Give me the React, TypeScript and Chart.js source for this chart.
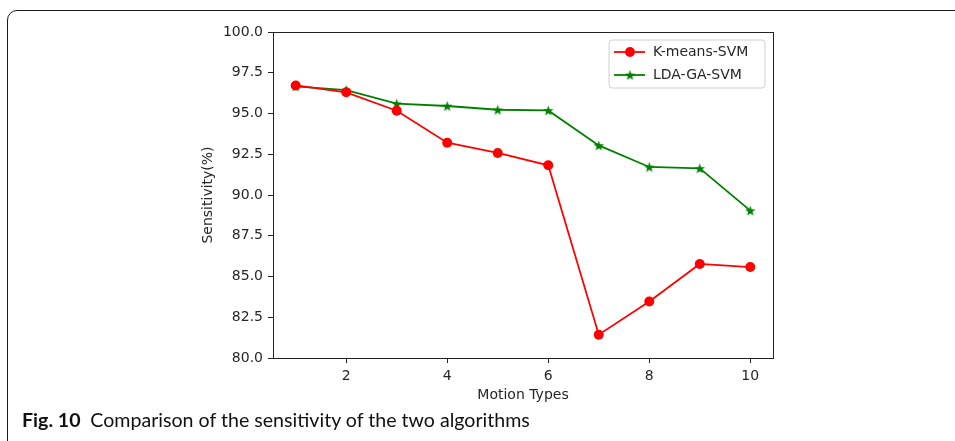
import React, { useEffect, useRef } from "react";
import { Chart, registerables } from "chart.js";

Chart.register(...registerables);

const motionTypes = [1, 2, 3, 4, 5, 6, 7, 8, 9, 10];
const kmeansSvm = [96.72, 96.3, 95.17, 93.21, 92.58, 91.82, 81.43, 83.47, 85.77, 85.58];
const ldaGaSvm = [96.66, 96.44, 95.6, 95.46, 95.23, 95.19, 93.04, 91.72, 91.63, 89.04];
const xTicks = [2, 4, 6, 8, 10];
const yTicks = [80, 82.5, 85, 87.5, 90, 92.5, 95, 97.5, 100];
const seriesNames = ["K-means-SVM", "LDA-GA-SVM"];
const xTitle = "Motion Types";
const yTitle = "Sensitivity(%)";
const captionBold = "Fig. 10";
const captionText = "Comparison of the sensitivity of the two algorithms";

const RED = "#ff0000";
const GREEN = "#008000";
const TEXT = "#262626";
const FONT = "'DejaVu Sans', sans-serif";

function makeStar(color: string, r: number) {
  const size = Math.ceil(r * 2 + 2);
  const c = document.createElement("canvas");
  c.width = size;
  c.height = size;
  const ctx = c.getContext("2d")!;
  const cx = size / 2;
  const cy = size / 2 + r * 0.1;
  const inner = r * 0.42;
  ctx.beginPath();
  for (let i = 0; i < 10; i++) {
    const rad = i % 2 === 0 ? r : inner;
    const a = -Math.PI / 2 + (i * Math.PI) / 5;
    const x = cx + rad * Math.cos(a);
    const y = cy + rad * Math.sin(a);
    if (i === 0) ctx.moveTo(x, y);
    else ctx.lineTo(x, y);
  }
  ctx.closePath();
  ctx.fillStyle = color;
  ctx.fill();
  return c;
}

export default function App() {
  const ref = useRef<HTMLCanvasElement | null>(null);

  useEffect(() => {
    if (!ref.current) return;
    const star = makeStar(GREEN, 5.5);

    const framePlugin = {
      id: "frameAndLegend",
      afterDraw(chart: any) {
        const { ctx, chartArea } = chart;
        ctx.save();
        ctx.strokeStyle = "#222";
        ctx.lineWidth = 1;
        ctx.strokeRect(
          Math.round(chartArea.left) + 0.5,
          Math.round(chartArea.top) + 0.5,
          Math.round(chartArea.right - chartArea.left),
          Math.round(chartArea.bottom - chartArea.top)
        );
        const lx = chartArea.right - 164;
        const ly = chartArea.top + 8;
        const lw = 156;
        const lh = 48;
        const rr = 3;
        ctx.beginPath();
        ctx.moveTo(lx + rr, ly);
        ctx.lineTo(lx + lw - rr, ly);
        ctx.quadraticCurveTo(lx + lw, ly, lx + lw, ly + rr);
        ctx.lineTo(lx + lw, ly + lh - rr);
        ctx.quadraticCurveTo(lx + lw, ly + lh, lx + lw - rr, ly + lh);
        ctx.lineTo(lx + rr, ly + lh);
        ctx.quadraticCurveTo(lx, ly + lh, lx, ly + lh - rr);
        ctx.lineTo(lx, ly + rr);
        ctx.quadraticCurveTo(lx, ly, lx + rr, ly);
        ctx.closePath();
        ctx.fillStyle = "rgba(255,255,255,0.85)";
        ctx.fill();
        ctx.strokeStyle = "#d0d0d0";
        ctx.stroke();

        const rows = [ly + 12, ly + 35];
        const colors = [RED, GREEN];
        rows.forEach((yy, i) => {
          ctx.strokeStyle = colors[i];
          ctx.lineWidth = 1.8;
          ctx.beginPath();
          ctx.moveTo(lx + 5, yy);
          ctx.lineTo(lx + 36, yy);
          ctx.stroke();
          if (i === 0) {
            ctx.fillStyle = RED;
            ctx.beginPath();
            ctx.arc(lx + 21, yy, 5, 0, Math.PI * 2);
            ctx.fill();
          } else {
            ctx.drawImage(star, lx + 21 - star.width / 2, yy - star.height / 2);
          }
          ctx.fillStyle = TEXT;
          ctx.font = "14px " + FONT;
          ctx.textBaseline = "middle";
          ctx.textAlign = "left";
          ctx.fillText(seriesNames[i], lx + 44, yy);
        });
        ctx.restore();
      },
    };

    const chart = new Chart(ref.current, {
      type: "line",
      data: {
        labels: motionTypes,
        datasets: [
          {
            label: seriesNames[0],
            data: motionTypes.map((x, i) => ({ x, y: kmeansSvm[i] })),
            borderColor: RED,
            backgroundColor: RED,
            borderWidth: 1.8,
            pointStyle: "circle",
            pointRadius: 5,
            pointBorderWidth: 0,
            pointBackgroundColor: RED,
            tension: 0,
          },
          {
            label: seriesNames[1],
            data: motionTypes.map((x, i) => ({ x, y: ldaGaSvm[i] })),
            borderColor: GREEN,
            backgroundColor: GREEN,
            borderWidth: 1.8,
            pointStyle: star as any,
            pointRadius: 5,
            tension: 0,
          },
        ],
      },
      options: {
        animation: false,
        responsive: false,
        devicePixelRatio: 1,
        layout: { padding: { left: 200, right: 182, top: 32, bottom: 37 } },
        plugins: {
          legend: { display: false },
          tooltip: { enabled: false },
        },
        scales: {
          x: {
            type: "linear",
            min: 0.55,
            max: 10.45,
            afterBuildTicks: (scale: any) => {
              scale.ticks = xTicks.map((v) => ({ value: v }));
            },
            afterFit: (scale: any) => {
              scale.height = 46;
            },
            grid: {
              drawOnChartArea: false,
              drawTicks: true,
              tickLength: 5,
              color: "#222",
            },
            border: { display: true, color: "#222", width: 1 },
            ticks: {
              color: TEXT,
              font: { family: FONT, size: 14 },
              padding: 5,
              maxRotation: 0,
              autoSkip: false,
              callback: (v: any) => String(v),
            },
            title: {
              display: true,
              text: xTitle,
              color: TEXT,
              font: { family: FONT, size: 14 },
              padding: { top: 0, bottom: 0 },
            },
          },
          y: {
            type: "linear",
            min: 80,
            max: 100,
            afterBuildTicks: (scale: any) => {
              scale.ticks = yTicks.map((v) => ({ value: v }));
            },
            afterFit: (scale: any) => {
              scale.width = 73;
            },
            grid: {
              drawOnChartArea: false,
              drawTicks: true,
              tickLength: 5,
              color: "#222",
            },
            border: { display: true, color: "#222", width: 1 },
            ticks: {
              color: TEXT,
              font: { family: FONT, size: 14 },
              padding: 5,
              autoSkip: false,
              callback: (v: any) => Number(v).toFixed(1),
            },
            title: {
              display: true,
              text: yTitle,
              color: TEXT,
              font: { family: FONT, size: 14 },
              padding: { top: 0, bottom: 0 },
            },
          },
        },
      },
      plugins: [framePlugin],
    });
    return () => chart.destroy();
  }, []);

  return (
    <div
      style={{
        position: "fixed",
        left: 0,
        top: 0,
        width: 955,
        height: 441,
        overflow: "hidden",
        background: "#fff",
      }}
    >
      <div
        style={{
          position: "absolute",
          left: 7,
          top: 10,
          width: 970,
          height: 450,
          border: "1.3px solid #1a1a1a",
          borderRadius: 10,
          boxSizing: "border-box",
        }}
      />
      <canvas
        ref={ref}
        width={955}
        height={441}
        style={{ position: "absolute", left: 0, top: 0, width: 955, height: 441 }}
      />
      <div
        style={{
          position: "absolute",
          left: 22,
          top: 410,
          fontFamily: "Lato, 'Open Sans', sans-serif",
          fontSize: 19.6,
          lineHeight: "20px",
          color: "#111",
          whiteSpace: "nowrap",
        }}
      >
        <span style={{ fontWeight: 700 }}>{captionBold}</span>
        <span>{"\u2002" + captionText}</span>
      </div>
    </div>
  );
}
